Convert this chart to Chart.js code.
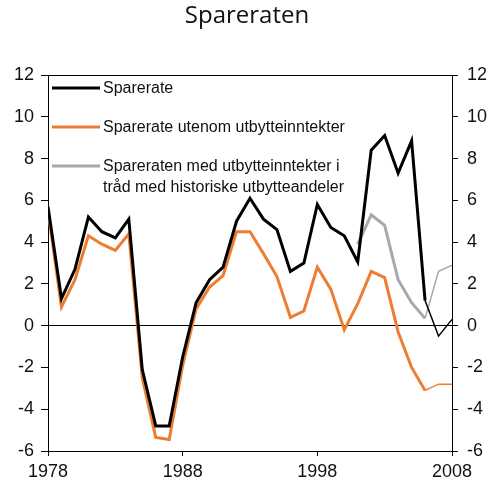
<!DOCTYPE html>
<html>
<head>
<meta charset="utf-8">
<script src="https://cdn.jsdelivr.net/npm/chart.js@4.4.1/dist/chart.umd.min.js"></script>
<style>
  html, body { margin: 0; padding: 0; background: #fff; }
  #wrap { width: 500px; height: 503px; }
</style>
</head>
<body>
<div id="wrap"><canvas id="myChart"></canvas></div>
<script>
  // Data
  const years = [1978, 1979, 1980, 1981, 1982, 1983, 1984, 1985, 1986, 1987,
                 1988, 1989, 1990, 1991, 1992, 1993, 1994, 1995, 1996, 1997,
                 1998, 1999, 2000, 2001, 2002, 2003, 2004, 2005, 2006, 2007, 2008];

  const sparerate = [5.7, 1.3, 2.7, 5.2, 4.5, 4.2, 5.1, -2.1, -4.8, -4.8,
                     -1.5, 1.1, 2.2, 2.8, 5.0, 6.1, 5.1, 4.6, 2.6, 3.0,
                     5.8, 4.7, 4.3, 3.05, 8.4, 9.1, 7.3, 8.85, 1.2, -0.5, 0.3];

  const utenomUtbytte = [5.5, 0.9, 2.2, 4.3, 3.9, 3.6, 4.4, -2.5, -5.35, -5.45,
                         -1.9, 0.8, 1.85, 2.4, 4.5, 4.5, 3.45, 2.35, 0.4, 0.7,
                         2.8, 1.75, -0.2, 1.05, 2.6, 2.3, -0.3, -2.0, -3.1, -2.8, -2.8];

  const historiskUtbytte = [null, null, null, null, null, null, null, null, null, null,
                            null, null, null, null, null, null, null, null, null, null,
                            null, null, null, 3.9, 5.3, 4.8, 2.2, 1.1, 0.35, 2.6, 2.9];

  const yTicks = [-6, -4, -2, 0, 2, 4, 6, 8, 10, 12];
  const xTicks = [1978, 1988, 1998, 2008];

  const titleText = 'Spareraten';
  const legendLabels = [
    ['Sparerate'],
    ['Sparerate utenom utbytteinntekter'],
    ['Spareraten med utbytteinntekter i', 'tråd med historiske utbytteandeler']
  ];
  const colors = ['#000000', '#ed7d31', '#a7a8ae'];

  // projection years (from 2006 on) drawn thin
  const thinFrom = years.indexOf(2006);

  const toPoints = (vals) => years.map((yr, i) => ({ x: yr, y: vals[i] }));

  const makeSet = (label, vals, color) => ({
    label: label,
    data: toPoints(vals),
    borderColor: color,
    backgroundColor: color,
    borderWidth: 3,
    pointRadius: 0,
    tension: 0,
    spanGaps: false,
    segment: {
      borderWidth: ctx => ctx.p0DataIndex >= thinFrom ? 1.5 : 3
    }
  });

  const data = {
    datasets: [
      makeSet(legendLabels[0].join(' '), sparerate, colors[0]),
      makeSet(legendLabels[1].join(' '), utenomUtbytte, colors[1]),
      makeSet(legendLabels[2].join(' '), historiskUtbytte, colors[2])
    ]
  };

  const tickFont = { family: '"Liberation Sans", Arial, sans-serif', size: 18 };

  // title, top frame line and legend
  const decor = {
    id: 'decor',
    afterDraw(chart) {
      const { ctx, chartArea: { top, left, right } } = chart;
      ctx.save();
      ctx.strokeStyle = '#000';
      ctx.lineWidth = 1;
      ctx.beginPath();
      ctx.moveTo(left, top + 0.5);
      ctx.lineTo(right, top + 0.5);
      ctx.stroke();

      ctx.fillStyle = '#111';
      ctx.font = '24px "Open Sans", sans-serif';
      ctx.textAlign = 'center';
      ctx.textBaseline = 'alphabetic';
      ctx.fillText(titleText, 247, 23);

      const rows = [88, 127, 166];
      ctx.font = '16px "Liberation Sans", Arial, sans-serif';
      ctx.textAlign = 'left';
      ctx.textBaseline = 'middle';
      legendLabels.forEach((lines, i) => {
        ctx.strokeStyle = colors[i];
        ctx.lineWidth = 3;
        ctx.beginPath();
        ctx.moveTo(52, rows[i]);
        ctx.lineTo(100, rows[i]);
        ctx.stroke();
        ctx.fillStyle = '#111';
        lines.forEach((t, j) => ctx.fillText(t, 103, rows[i] + 1 + j * 20.5));
      });
      ctx.restore();
    }
  };

  const config = {
    type: 'line',
    data: data,
    options: {
      responsive: true,
      maintainAspectRatio: false,
      animation: false,
      layout: { padding: { top: 75, left: 0, right: 0, bottom: 0 } },
      plugins: {
        legend: { display: false },
        title: { display: false },
        tooltip: { enabled: false }
      },
      scales: {
        x: {
          type: 'linear',
          min: 1978,
          max: 2008,
          afterBuildTicks: s => { s.ticks = xTicks.map(v => ({ value: v })); },
          afterFit: s => { s.height = 52; },
          ticks: {
            font: tickFont,
            color: '#111',
            padding: 5,
            maxRotation: 0,
            callback: v => String(v)
          },
          grid: { drawOnChartArea: false, tickLength: 5, color: '#000', tickColor: '#000' },
          border: { color: '#000', width: 1 }
        },
        y: {
          position: 'left',
          min: -6,
          max: 12,
          afterBuildTicks: s => { s.ticks = yTicks.map(v => ({ value: v })); },
          afterFit: s => { s.width = 48; },
          ticks: { font: tickFont, color: '#111', padding: 7 },
          grid: {
            drawOnChartArea: true,
            tickLength: 7,
            tickColor: '#000',
            color: ctx => (ctx.tick && ctx.tick.value === 0) ? '#000' : 'rgba(0,0,0,0)'
          },
          border: { color: '#000', width: 1 }
        },
        y2: {
          position: 'right',
          min: -6,
          max: 12,
          afterBuildTicks: s => { s.ticks = yTicks.map(v => ({ value: v })); },
          afterFit: s => { s.width = 48; },
          ticks: { font: tickFont, color: '#111', padding: 9 },
          grid: { drawOnChartArea: false, tickLength: 6, color: '#000', tickColor: '#000' },
          border: { color: '#000', width: 1 }
        }
      }
    },
    plugins: [decor]
  };

  const myChart = new Chart(
    document.getElementById('myChart'),
    config
  );
</script>
</body>
</html>
